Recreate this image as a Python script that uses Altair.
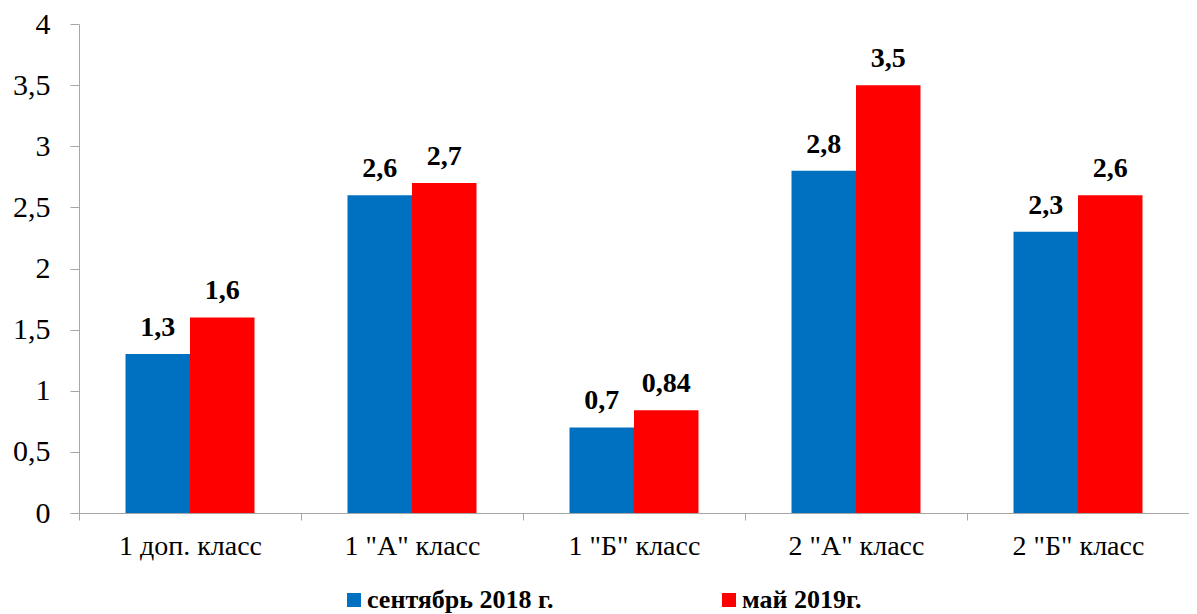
import altair as alt
import pandas as pd

categories = ['1 доп. класс', '1 "А" класс', '1 "Б" класс', '2 "А" класс', '2 "Б" класс']
sep_2018 = [1.3, 2.6, 0.7, 2.8, 2.3]
may_2019 = [1.6, 2.7, 0.84, 3.5, 2.6]
series = ['сентябрь 2018 г.', 'май 2019г.']
colors = ['#0070C0', '#FF0000']
y_ticks = [0, 0.5, 1, 1.5, 2, 2.5, 3, 3.5, 4]

rows = []
for c, a, b in zip(categories, sep_2018, may_2019):
    rows.append({'cat': c, 'series': series[0], 'value': a})
    rows.append({'cat': c, 'series': series[1], 'value': b})
df = pd.DataFrame(rows)

FONT = "'Times New Roman', 'Liberation Serif', 'DejaVu Serif', serif"
AXIS_GREY = '#a6a6a6'
COMMA = "replace(format(datum.value, '~g'), '.', ',')"

x = alt.X('cat:N', sort=categories, title=None,
          scale=alt.Scale(paddingInner=0, paddingOuter=0),
          axis=alt.Axis(labelAngle=0, tickBand='extent', tickSize=7,
                        tickColor=AXIS_GREY, domainColor=AXIS_GREY,
                        labelFont=FONT, labelFontSize=28, labelColor='black',
                        labelPadding=12, labelLimit=400, grid=False))
xo = alt.XOffset('series:N', sort=series,
                 scale=alt.Scale(paddingInner=0, paddingOuter=0.721))
y = alt.Y('value:Q', title=None,
          scale=alt.Scale(domain=[0, 4], nice=False),
          axis=alt.Axis(values=y_ticks, labelExpr=COMMA, grid=False,
                        tickSize=9, tickColor=AXIS_GREY, domainColor=AXIS_GREY,
                        labelFont=FONT, labelFontSize=30, labelColor='black',
                        labelPadding=20))
color = alt.Color('series:N', sort=series,
                  scale=alt.Scale(domain=series, range=colors),
                  legend=alt.Legend(title=None, orient='none', direction='horizontal',
                                    legendX=262, legendY=563,
                                    symbolType='square', symbolSize=196,
                                    symbolStrokeWidth=0, labelOffset=0,
                                    columnPadding=162, labelLimit=500,
                                    labelFont=FONT, labelFontSize=26,
                                    labelFontWeight='bold', labelColor='black'))

bars = alt.Chart(df).mark_bar().encode(x=x, xOffset=xo, y=y, color=color)
labels = alt.Chart(df).transform_calculate(
    label=COMMA
).mark_text(baseline='alphabetic', dy=-18, font=FONT, fontSize=28,
            fontWeight='bold', color='black').encode(
    x=x, xOffset=xo, y=y, text='label:N')

chart = (bars + labels).properties(
    width=1110, height=489,
    padding={'left': 71, 'top': 16, 'right': 0, 'bottom': 100},
    autosize=alt.AutoSizeParams(type='none'),
).configure(font=FONT).configure_axis(labelFont=FONT).configure_legend(
    labelFont=FONT).configure_view(stroke=None)

chart.save("out.html", embed_options={"renderer": "svg", "actions": False})
